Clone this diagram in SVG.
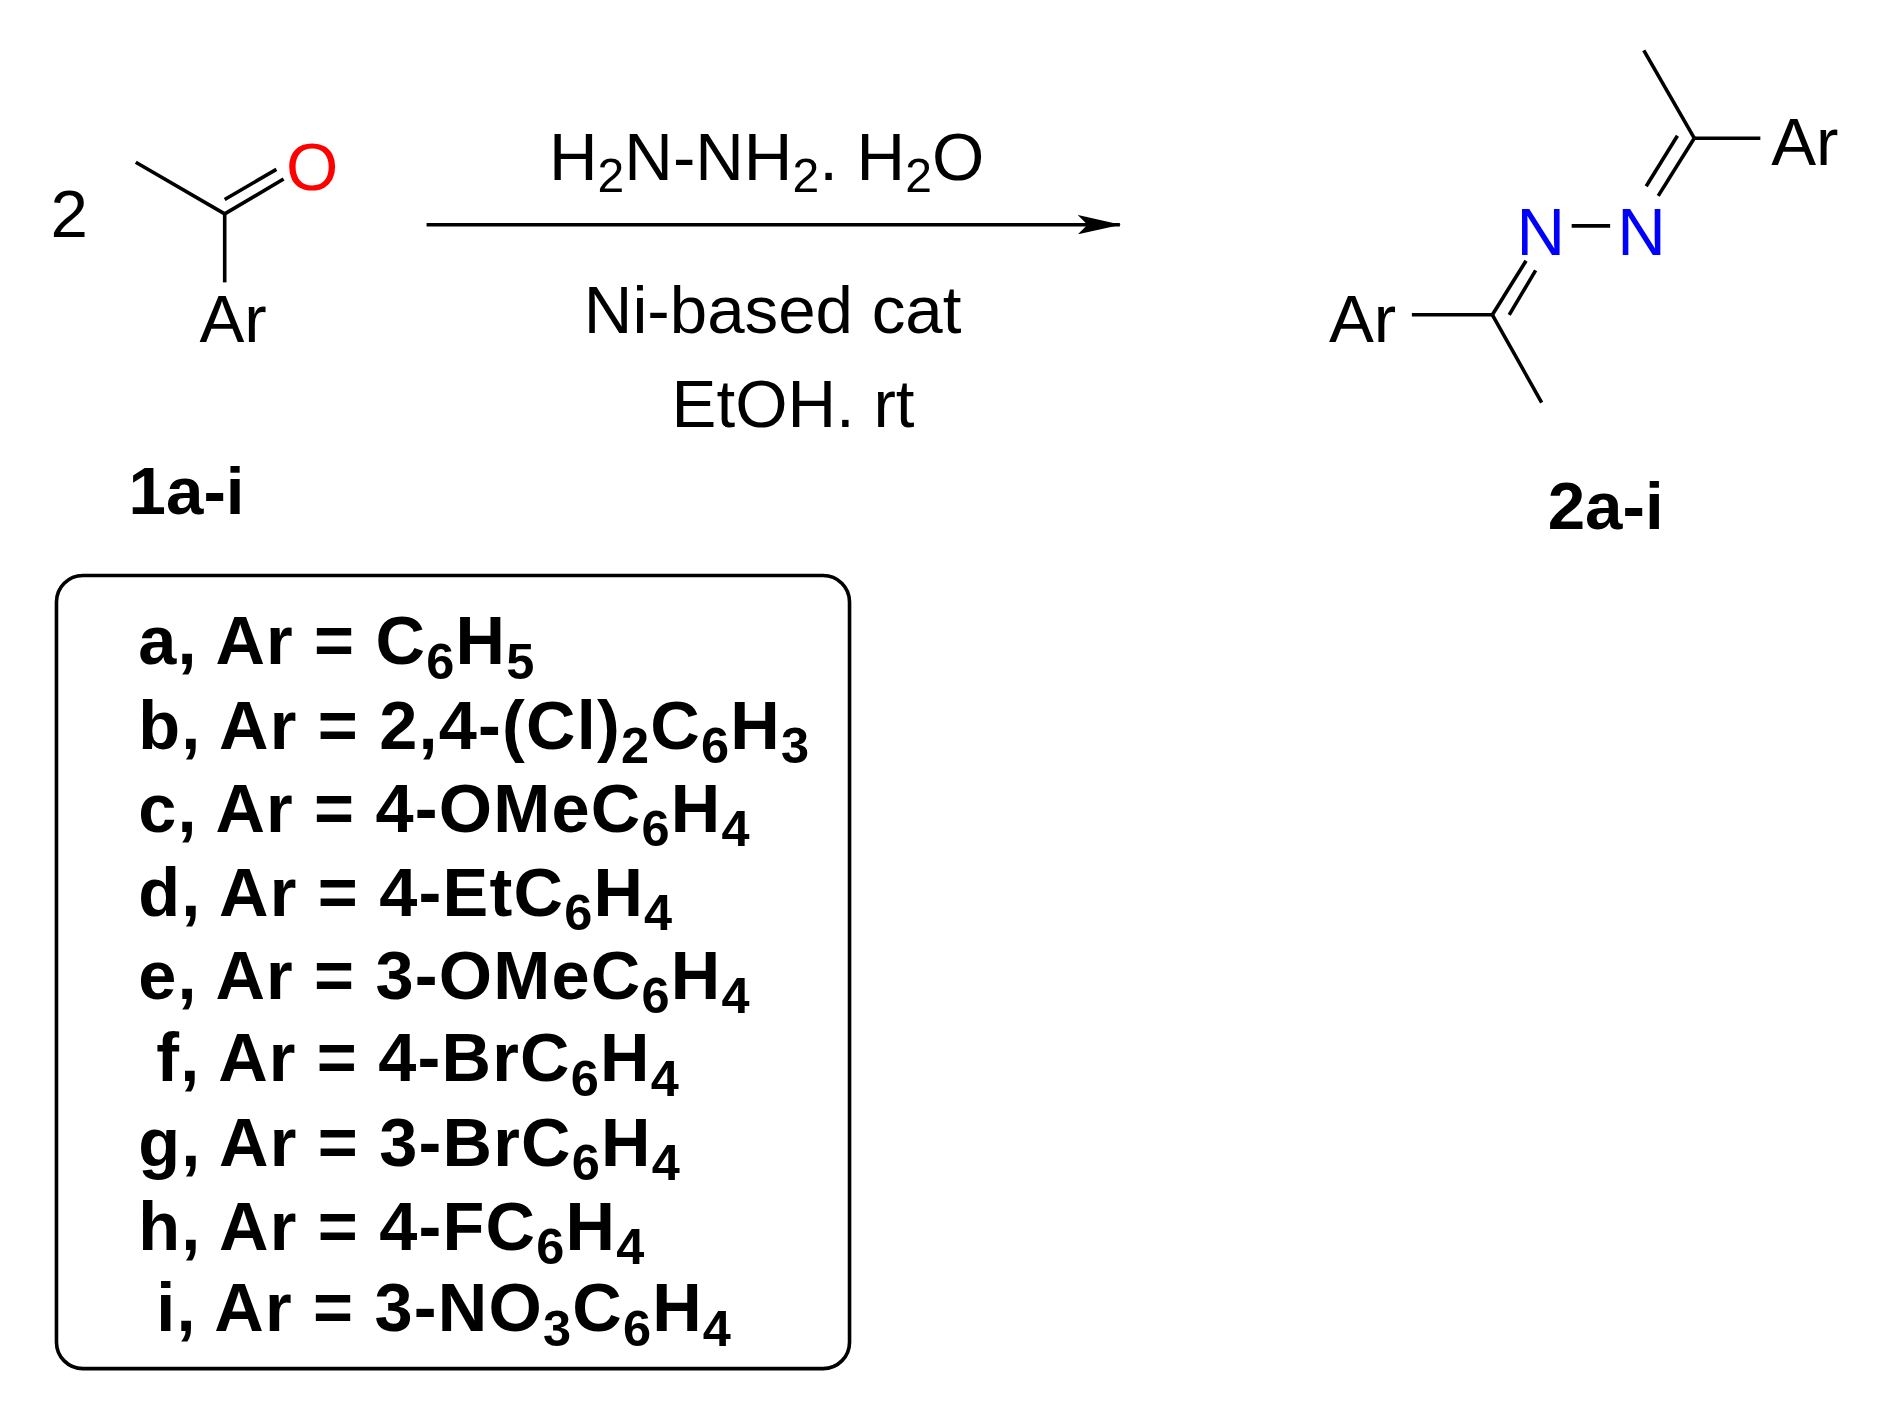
<svg xmlns="http://www.w3.org/2000/svg" width="1884" height="1404" viewBox="0 0 1884 1404">
<style>
text{font-family:"Liberation Sans",Arial,sans-serif;fill:#000}
.n{font-size:56px}
.b{font-size:57px;font-weight:bold;letter-spacing:1px}
.bl{font-size:56px;font-weight:bold}
line,path{stroke:#000;stroke-width:3;fill:none}
</style>
<defs><marker id="ah" viewBox="0 0 36 16" refX="35" refY="8" markerWidth="36" markerHeight="16" markerUnits="userSpaceOnUse" orient="auto"><path d="M0,0 L36,8 L0,16 L8,8 Z" style="fill:#000;stroke:none"/></marker></defs>
<rect width="1884" height="1404" fill="#fff"/>
<g transform="scale(1.2016)">
<g id="reactant">
<text class="n" x="42" y="197">2</text>
<line x1="113" y1="135" x2="187" y2="178"/>
<line x1="187" y1="178" x2="236" y2="149"/>
<line x1="187" y1="166" x2="230" y2="141"/>
<line x1="187" y1="178" x2="187" y2="235"/>
<text class="n" x="238" y="158" style="fill:#f00">O</text>
<text class="n" x="166" y="285">Ar</text>
<text class="bl" x="107" y="428">1a-i</text>
</g>
<g id="connectors">
<line x1="355" y1="187" x2="932" y2="187" marker-end="url(#ah)"/>
</g>
<g id="conditions">
<text class="n" x="638" y="150" text-anchor="middle">H<tspan font-size="40" dy="10">2</tspan><tspan dy="-10">N-NH</tspan><tspan font-size="40" dy="10">2</tspan><tspan dy="-10">. H</tspan><tspan font-size="40" dy="10">2</tspan><tspan dy="-10">O</tspan></text>
<text class="n" x="643" y="277" text-anchor="middle">Ni-based cat</text>
<text class="n" x="660" y="355" text-anchor="middle">EtOH. rt</text>
</g>
<g id="product">
<text class="n" x="1106" y="285">Ar</text>
<line x1="1175" y1="262" x2="1242" y2="262"/>
<line x1="1242" y1="262" x2="1283" y2="335"/>
<line x1="1242" y1="262" x2="1270" y2="217"/>
<line x1="1256" y1="262" x2="1278" y2="225"/>
<text class="n" x="1262" y="212" style="fill:#00f">N</text>
<line x1="1308" y1="188" x2="1340" y2="188"/>
<text class="n" x="1346" y="212" style="fill:#00f">N</text>
<line x1="1380" y1="163" x2="1410" y2="115"/>
<line x1="1370" y1="155" x2="1396" y2="113"/>
<line x1="1410" y1="115" x2="1368" y2="42"/>
<line x1="1410" y1="115" x2="1465" y2="115"/>
<text class="n" x="1474" y="137">Ar</text>
<text class="bl" x="1288" y="440">2a-i</text>
</g>
<g id="legend">
<rect x="47" y="479" width="660" height="660" rx="22" style="fill:none;stroke:#000;stroke-width:3"/>
<text class="b" x="115" y="553">a, Ar = C<tspan font-size="42" dy="12">6</tspan><tspan dy="-12">H</tspan><tspan font-size="42" dy="12">5</tspan></text>
<text class="b" x="115" y="623">b, Ar = 2,4-(Cl)<tspan font-size="42" dy="12">2</tspan><tspan dy="-12">C</tspan><tspan font-size="42" dy="12">6</tspan><tspan dy="-12">H</tspan><tspan font-size="42" dy="12">3</tspan></text>
<text class="b" x="115" y="692">c, Ar = 4-OMeC<tspan font-size="42" dy="12">6</tspan><tspan dy="-12">H</tspan><tspan font-size="42" dy="12">4</tspan></text>
<text class="b" x="115" y="762">d, Ar = 4-EtC<tspan font-size="42" dy="12">6</tspan><tspan dy="-12">H</tspan><tspan font-size="42" dy="12">4</tspan></text>
<text class="b" x="115" y="831">e, Ar = 3-OMeC<tspan font-size="42" dy="12">6</tspan><tspan dy="-12">H</tspan><tspan font-size="42" dy="12">4</tspan></text>
<text class="b" x="130" y="900">f, Ar = 4-BrC<tspan font-size="42" dy="12">6</tspan><tspan dy="-12">H</tspan><tspan font-size="42" dy="12">4</tspan></text>
<text class="b" x="115" y="970">g, Ar = 3-BrC<tspan font-size="42" dy="12">6</tspan><tspan dy="-12">H</tspan><tspan font-size="42" dy="12">4</tspan></text>
<text class="b" x="115" y="1040">h, Ar = 4-FC<tspan font-size="42" dy="12">6</tspan><tspan dy="-12">H</tspan><tspan font-size="42" dy="12">4</tspan></text>
<text class="b" x="130" y="1108">i, Ar = 3-NO<tspan font-size="42" dy="12">3</tspan><tspan dy="-12">C</tspan><tspan font-size="42" dy="12">6</tspan><tspan dy="-12">H</tspan><tspan font-size="42" dy="12">4</tspan></text>
</g>
</g>
</svg>
